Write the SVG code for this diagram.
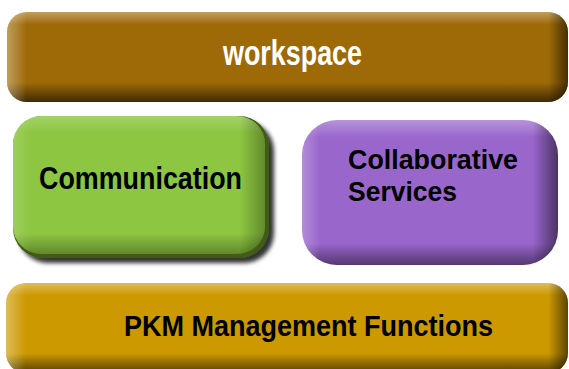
<svg xmlns="http://www.w3.org/2000/svg" width="569" height="369" viewBox="0 0 569 369">
<defs>
  <linearGradient id="bar-v" x1="0" y1="0" x2="0" y2="1">
    <stop offset="0" stop-color="#fff" stop-opacity="0.35"/>
    <stop offset="0.14" stop-color="#fff" stop-opacity="0"/>
    <stop offset="0.78" stop-color="#000" stop-opacity="0"/>
    <stop offset="1" stop-color="#000" stop-opacity="0.6"/>
  </linearGradient>
  <linearGradient id="bar-h" x1="0" y1="0" x2="1" y2="0">
    <stop offset="0" stop-color="#fff" stop-opacity="0.35"/>
    <stop offset="0.035" stop-color="#fff" stop-opacity="0"/>
    <stop offset="0.965" stop-color="#000" stop-opacity="0"/>
    <stop offset="1" stop-color="#000" stop-opacity="0.55"/>
  </linearGradient>
  <linearGradient id="box-v" x1="0" y1="0" x2="0" y2="1">
    <stop offset="0" stop-color="#fff" stop-opacity="0.3"/>
    <stop offset="0.12" stop-color="#fff" stop-opacity="0"/>
    <stop offset="0.85" stop-color="#000" stop-opacity="0"/>
    <stop offset="1" stop-color="#000" stop-opacity="0.45"/>
  </linearGradient>
  <linearGradient id="box-h" x1="0" y1="0" x2="1" y2="0">
    <stop offset="0" stop-color="#fff" stop-opacity="0.25"/>
    <stop offset="0.07" stop-color="#fff" stop-opacity="0"/>
    <stop offset="0.9" stop-color="#000" stop-opacity="0"/>
    <stop offset="1" stop-color="#000" stop-opacity="0.5"/>
  </linearGradient>
  <filter id="drop" x="-10%" y="-10%" width="125%" height="125%">
    <feDropShadow dx="5" dy="5" stdDeviation="2" flood-color="#000" flood-opacity="0.8"/>
  </filter>
  <style>
    .lbl { font-family: "Liberation Sans", Arial, Helvetica, sans-serif; font-weight: bold; }
    .w { fill: #ffffff; }
    .b { fill: #000000; }
  </style>
</defs>
<rect width="569" height="369" fill="#ffffff"/>

<g id="workspace">
  <rect x="7" y="12" width="561" height="90" rx="20" fill="#9e6a08"/>
  <rect x="7" y="12" width="561" height="90" rx="20" fill="url(#bar-v)"/>
  <rect x="7" y="12" width="561" height="90" rx="20" fill="url(#bar-h)"/>
  <text class="lbl w" x="223" y="65" font-size="35" textLength="139" lengthAdjust="spacingAndGlyphs">workspace</text>
</g>

<g id="communication">
  <rect x="13" y="116" width="256" height="142" rx="30" fill="#3f5c16" filter="url(#drop)"/>
  <rect x="13" y="116" width="252" height="138" rx="28" fill="#8dc641"/>
  <rect x="13" y="116" width="252" height="138" rx="28" fill="url(#box-v)" opacity="0.7"/>
  <rect x="13" y="116" width="252" height="138" rx="28" fill="url(#box-h)" opacity="0.6"/>
  <text class="lbl b" x="39" y="189" font-size="31" textLength="203" lengthAdjust="spacingAndGlyphs">Communication</text>
</g>

<g id="collaborative">
  <rect x="302" y="120" width="256" height="145" rx="35" fill="#9966cc"/>
  <rect x="302" y="120" width="256" height="145" rx="35" fill="url(#box-v)"/>
  <rect x="302" y="120" width="256" height="145" rx="35" fill="url(#box-h)"/>
  <text class="lbl b" font-size="28">
    <tspan x="348" y="169" textLength="170" lengthAdjust="spacingAndGlyphs">Collaborative</tspan>
    <tspan x="348" y="201" textLength="109" lengthAdjust="spacingAndGlyphs">Services</tspan>
  </text>
</g>

<g id="pkm">
  <rect x="6" y="283" width="562" height="90" rx="20" fill="#cc9900"/>
  <rect x="6" y="283" width="562" height="90" rx="20" fill="url(#bar-v)"/>
  <rect x="6" y="283" width="562" height="90" rx="20" fill="url(#bar-h)"/>
  <text class="lbl b" x="124" y="336" font-size="30" textLength="369" lengthAdjust="spacingAndGlyphs">PKM Management Functions</text>
</g>
</svg>
